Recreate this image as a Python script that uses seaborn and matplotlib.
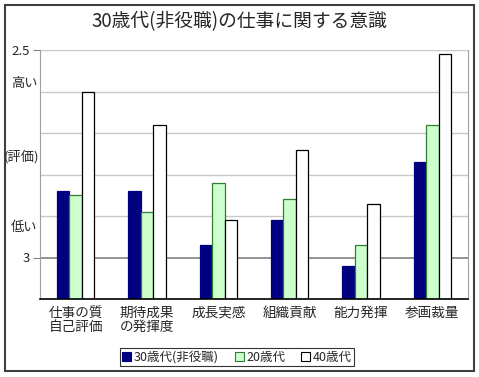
import pandas as pd
import numpy as np
import matplotlib
matplotlib.use("Agg")
import matplotlib.pyplot as plt
import seaborn as sns
from matplotlib.patches import Rectangle, Patch

# ------------------------------------------------------------------
# Data (lower score = higher evaluation)
# ------------------------------------------------------------------
categories = ["仕事の質\n自己評価", "期待成果\nの発揮度", "成長実感", "組織貢献", "能力発揮", "参画裁量"]
series_names = ["30歳代(非役職)", "20歳代", "40歳代"]
vals_30 = [2.84, 2.84, 2.97, 2.91, 3.02, 2.77]
vals_20 = [2.85, 2.89, 2.82, 2.86, 2.97, 2.68]
vals_40 = [2.60, 2.68, 2.91, 2.74, 2.87, 2.51]

base = 3.1  # axis bottom; bars grow upward toward 2.5

df = pd.DataFrame({
    "cat": categories * 3,
    "series": np.repeat(series_names, len(categories)),
    "value": vals_30 + vals_20 + vals_40,
})
df["height"] = base - df["value"]

face = {"30歳代(非役職)": "#000080", "20歳代": "#CCFFCC", "40歳代": "#FFFFFF"}
edge = {"30歳代(非役職)": "#000080", "20歳代": "#2E7D32", "40歳代": "#000000"}

sns.set_style("white")
plt.rcParams['font.family'] = ['Noto Sans CJK JP', 'DejaVu Sans']

fig = plt.figure(figsize=(4.79, 3.77), dpi=100)
ax = fig.add_axes([40 / 479, 1 - 299 / 377, 428 / 479, 249 / 377])

sns.barplot(data=df, x="cat", y="height", hue="series", palette=face,
            width=0.52, gap=0, saturation=1, ax=ax, legend=False)

# bar edges per series
for cont, name in zip(ax.containers, series_names):
    for p in cont:
        p.set_edgecolor(edge[name])
        p.set_linewidth(0.9)

ax.set_ylim(0, 0.6)
ax.set_xlim(-0.5, len(categories) - 0.5)

# gridlines every 0.1, the "3" line darker
for g in np.arange(0.1, 0.61, 0.1):
    col = "#808080" if abs(g - 0.1) < 1e-6 else "#C8C8C8"
    lw = 1.2 if abs(g - 0.1) < 1e-6 else 1.0
    ax.axhline(g, color=col, lw=lw, zorder=0)

ax.set_yticks([0.6, 0.1])
ax.set_yticklabels(["2.5", "3"], fontsize=9.5)
ax.tick_params(axis="y", length=5, color="#808080", pad=2, left=True)
ax.tick_params(axis="x", length=0, labelsize=9.8, pad=5)
for lbl in ax.get_xticklabels():
    lbl.set_linespacing(1.0)
ax.set_xlabel("")
ax.set_ylabel("")

ax.spines["top"].set_visible(False)
ax.spines["left"].set_color("#A0A0A0")
ax.spines["right"].set_color("#A0A0A0")
ax.spines["bottom"].set_color("#000000")
ax.spines["bottom"].set_linewidth(1.2)

# side annotations
fig.text(11 / 479, 1 - 84 / 377, "高い", fontsize=9.5, va="center", ha="left")
fig.text(4 / 479, 1 - 157 / 377, "(評価)", fontsize=9.5, va="center", ha="left")
fig.text(11 / 479, 1 - 228 / 377, "低い", fontsize=9.5, va="center", ha="left")

fig.text(239 / 479, 1 - 22 / 377, "30歳代(非役職)の仕事に関する意識", fontsize=13.5,
         ha="center", va="center")

# legend
handles = [Patch(facecolor=face[n], edgecolor=edge[n], linewidth=0.8) for n in series_names]
leg = fig.legend(handles, series_names, loc="center", bbox_to_anchor=(237 / 479, 1 - 357 / 377),
                 ncol=3, fontsize=9, frameon=True, fancybox=False, edgecolor="black",
                 handlelength=0.7, handleheight=0.7, handletextpad=0.2, columnspacing=1.3,
                 borderpad=0.2)
leg.get_frame().set_linewidth(0.8)

# outer frame
fig.patches.append(Rectangle((5 / 479, 1 - 371 / 377), 469 / 479, 366 / 377,
                             transform=fig.transFigure, fill=False,
                             edgecolor="#404040", linewidth=1.5))

fig.savefig("out.png", dpi=100)
